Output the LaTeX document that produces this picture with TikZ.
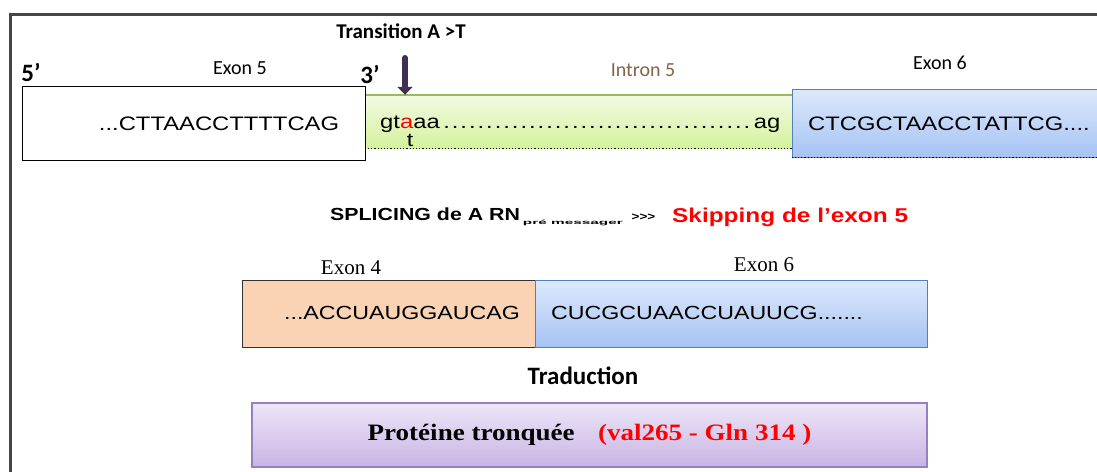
\documentclass[tikz,border=0pt]{standalone}
\usepackage{fontspec}
\usepackage{graphicx}
\usetikzlibrary{arrows.meta, positioning}
\setmainfont{Liberation Serif}
\newfontfamily\seqfont[FakeStretch=1.22]{Liberation Sans}
\newfontfamily\labfont{Carlito}
\newfontfamily\protfont[FakeStretch=1.15]{Liberation Serif}

\definecolor{ExonBlue}{RGB}{79,129,189}
\definecolor{ExonBlueTop}{RGB}{221,233,252}
\definecolor{ExonBlueBot}{RGB}{166,195,243}
\definecolor{IntronTop}{RGB}{243,250,228}
\definecolor{IntronBot}{RGB}{212,242,156}
\definecolor{IntronEdge}{RGB}{155,187,89}
\definecolor{IntronLabel}{RGB}{130,100,70}
\definecolor{ExonPeach}{RGB}{250,211,180}
\definecolor{ProtTop}{RGB}{238,230,247}
\definecolor{ProtBot}{RGB}{199,180,228}
\definecolor{ProtEdge}{RGB}{150,128,190}
\definecolor{MutRed}{RGB}{255,0,0}
\definecolor{ArrowPurple}{RGB}{62,48,82}
\definecolor{FrameGray}{RGB}{70,70,70}

\tikzset{
  framestyle/.style={FrameGray, line width=3pt},
  exonwhite/.style={draw=black, fill=white, line width=1pt, inner sep=0pt},
  exonblue/.style={draw=ExonBlue, top color=ExonBlueTop, bottom color=ExonBlueBot,
                   line width=1pt, inner sep=0pt},
  exonpeach/.style={draw=black!80, fill=ExonPeach, line width=1pt, inner sep=0pt},
  intronbox/.style={top color=IntronTop, bottom color=IntronBot, inner sep=0pt},
  intronedge/.style={IntronEdge, line width=1.5pt},
  dotedge/.style={black, line width=1.2pt, dotted},
  protbox/.style={draw=ProtEdge, top color=ProtTop, bottom color=ProtBot, line width=1.5pt,
                  inner sep=0pt, font=\protfont\bfseries\fontsize{23.5}{27}\selectfont},
  seqtext/.style={inner sep=0pt, font=\seqfont\fontsize{19.5}{22}\selectfont},
  labeltext/.style={inner sep=0pt, font=\labfont\fontsize{20}{22}\selectfont},
  endtext/.style={inner sep=0pt, font=\labfont\bfseries\fontsize{25}{27}\selectfont},
  titletext/.style={inner sep=0pt, font=\labfont\bfseries\fontsize{21}{24}\selectfont},
  serlabel/.style={inner sep=0pt, font=\fontsize{21}{24}\selectfont},
  mutarrow/.style={ArrowPurple, line width=6pt, line cap=round,
                   -{Triangle[width=15pt,length=8pt]}}
}

\begin{document}
\begin{tikzpicture}[x=1pt, y=-1pt]
  \useasboundingbox (0,0) rectangle (1097,471);
  \draw[framestyle] (1120,14) -| (10,490);

  % pre-messenger RNA
  \node[intronbox, minimum width=427pt, minimum height=53pt] (intron) at (578.5,121.5) {};
  \draw[intronedge] (intron.north west) -- (intron.north east);
  \draw[dotedge] (intron.south west) -- (intron.south east);
  \node[exonwhite, minimum width=343pt, minimum height=74pt] (exfive) at (193.5,123) {};
  \node[exonblue, minimum width=330pt, minimum height=68pt] (exsix) at (957,123) {};
  \draw[dotedge] (exsix.south west) -- (exsix.south east);

  \node[seqtext] (seqfive) at (219,124) {...CTTAACCTTTTCAG};
  \node[seqtext, anchor=west] (seqintron) at (380,124)
       {\hbox to 400pt{gt\textcolor{MutRed}{a}aa\dotfill ag}};
  \node[seqtext] (seqsix) at (808,124) [anchor=west] {CTCGCTAACCTATTCG....};
  \node[seqtext, font=\seqfont\fontsize{19}{21}\selectfont] (mut) at (410,140) {t};

  \node[labeltext] (lfive) at (240,68) {Exon 5};
  \node[labeltext, text=IntronLabel] (lintron) at (643,70) {Intron 5};
  \node[labeltext] (lsix) at (940,63) {Exon 6};
  \node[endtext] (five) at (31,72) {5’};
  \node[endtext] (three) at (370,74) {3’};

  % mutation
  \node[titletext] (trans) at (401,31) {Transition A >T};
  \coordinate (mutstart) at (405,58);
  \draw[mutarrow] (mutstart) -- (mutstart |- intron.north);

  % splicing
  \node[seqtext, font=\seqfont\bfseries\fontsize{17.5}{20}\selectfont, anchor=west] (splice) at (330,217)
       {SPLICING de A RN\,\raisebox{-4pt}{\scalebox{2.1}[1]{\fontsize{6}{7}\selectfont pré messager}}\,
        {\fontsize{11}{12}\selectfont >>>}};
  \node[seqtext, font=\seqfont\bfseries\fontsize{20}{22}\selectfont, text=MutRed, anchor=west]
       (skip) at (672,217) {Skipping de l’exon 5};

  % messenger RNA
  \node[exonpeach, minimum width=293pt, minimum height=67pt] (mexfour) at (388.5,313.5) {};
  \node[exonblue, minimum width=392pt, minimum height=67pt] (mexsix) at (731,313.5) {};
  \node[seqtext, font=\seqfont\fontsize{19}{22}\selectfont] (mseqfour) at (402,313) {...ACCUAUGGAUCAG};
  \node[seqtext, font=\seqfont\fontsize{19}{22}\selectfont, anchor=west] (mseqsix) at (551,313)
       {CUCGCUAACCUAUUCG.......};
  \node[serlabel] (lmfour) at (351,268) {Exon 4};
  \node[serlabel] (lmsix) at (764,265) {Exon 6};

  % translation
  \node[titletext, font=\labfont\bfseries\fontsize{25}{28}\selectfont] (trad) at (583,376) {Traduction};
  \node[protbox, minimum width=675pt, minimum height=64pt] (prot) at (589.5,435)
       {Protéine tronquée\quad\textcolor{MutRed}{(val265 - Gln 314 )}};
\end{tikzpicture}
\end{document}
